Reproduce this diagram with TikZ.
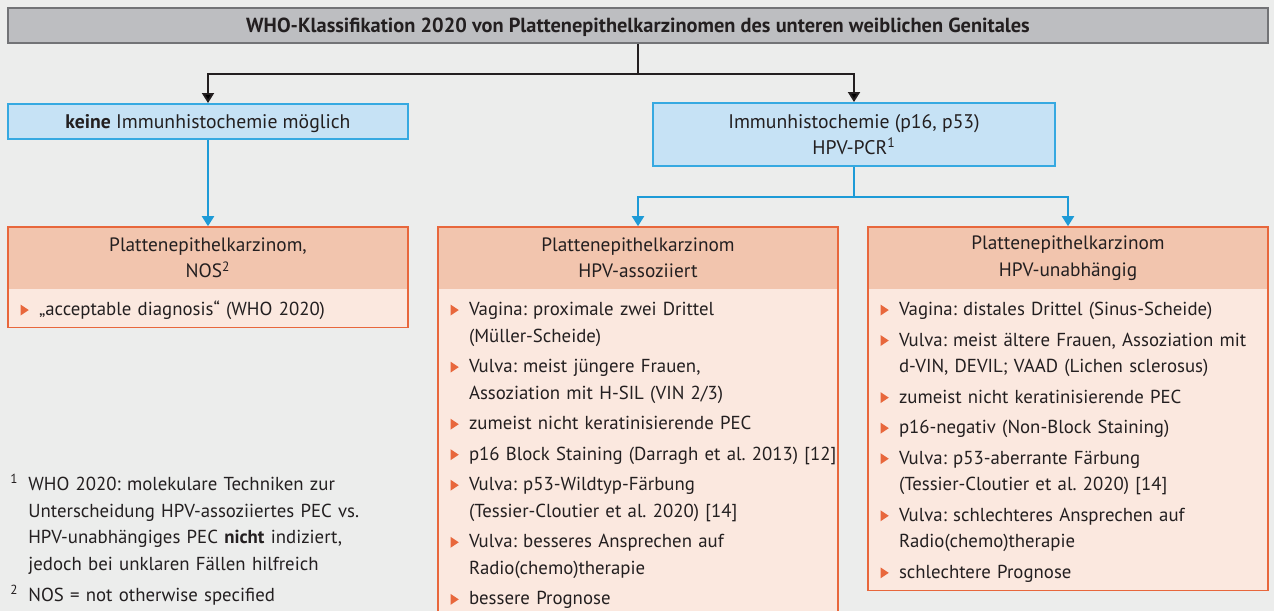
\documentclass[tikz,border=0pt]{standalone}
\usepackage{fontspec}
\setmainfont{PT Sans}
\usetikzlibrary{arrows.meta, positioning, fit, calc}
\definecolor{canvas}{HTML}{ECEDEC}
\definecolor{titleFill}{HTML}{BDBEC1}
\definecolor{titleLine}{HTML}{727376}
\definecolor{ihcFill}{HTML}{C6E2F5}
\definecolor{ihcLine}{HTML}{36A9E1}
\definecolor{pecHead}{HTML}{F2C5AE}
\definecolor{pecBody}{HTML}{FBE8DF}
\definecolor{pecLine}{HTML}{E8673C}
\definecolor{dark}{HTML}{231F20}
\definecolor{flowBlue}{HTML}{1E9BD7}

% orange arrow bullet and list entries
\newcommand{\bul}{\tikz[baseline=0pt]\fill[pecLine] (0,0) -- (0.165cm,0.11cm) -- (0,0.22cm) -- cycle;}
\newcommand{\pitem}[1]{\par\noindent\hangindent=0.62cm\makebox[0.62cm][l]{\hspace{0.25cm}\bul}\rule{0pt}{0.24cm}#1\strut\par\vspace{0.08cm}}
\newcommand{\fnitem}[2]{\par\noindent\hangindent=0.36cm\makebox[0.36cm][l]{\textsuperscript{#1}}\rule{0pt}{0.24cm}#2\strut\par\vspace{0.08cm}}
\frenchspacing

\begin{document}
\begin{tikzpicture}[
  font=\fontsize{10.7}{15.1}\selectfont,
  titlebox/.style={rectangle, draw=titleLine, line width=1.1pt, fill=titleFill, text=dark,
                   font=\fontsize{11.6}{15.1}\selectfont\bfseries, text depth=0pt,
                   minimum width=25.2cm, minimum height=0.7cm, inner sep=0pt},
  ihcbox/.style={rectangle, draw=ihcLine, line width=1.1pt, fill=ihcFill, text=dark,
                 font=\fontsize{11.2}{15.1}\selectfont, text depth=0pt,
                 align=center, minimum width=8cm, minimum height=0.7cm, inner sep=0pt},
  pechead/.style={rectangle, fill=pecHead, text=dark, align=center,
                  font=\fontsize{11}{15.1}\selectfont,
                  minimum width=8cm, minimum height=1.24cm, inner sep=0pt, outer sep=0pt},
  pecbody/.style={rectangle, fill=pecBody, text=dark, align=left, text width=8cm,
                  inner sep=0pt, outer sep=0pt},
  pecframe/.style={rectangle, draw=pecLine, line width=0.9pt, inner sep=0pt},
  splitblack/.style={-{Triangle[width=0.24cm, length=0.2cm]}, draw=dark, line width=1.1pt},
  splitblue/.style={-{Triangle[width=0.24cm, length=0.2cm]}, draw=flowBlue, line width=1.1pt}
]

  \useasboundingbox (0,0) rectangle (25.48,-12.22);
  \fill[canvas] (0,0) rectangle (25.48,-12.22);

  % --- heading ---
  \node[titlebox] (title) at (12.76,-0.51)
    {WHO-Klassifikation 2020 von Plattenepithelkarzinomen des unteren weiblichen Genitales};

  % --- first split: with / without immunohistochemistry ---
  \node[ihcbox] (noihc) at (4.16,-2.43) {\textbf{keine} Immunhistochemie möglich};
  \node[ihcbox, minimum width=8.04cm, minimum height=1.26cm] (ihc) at (17.08,-2.69)
    {Immunhistochemie (p16, p53)\\ HPV-PCR\textsuperscript{1}};

  % --- result boxes: header band + bullet list, framed by fit ---
  \node[pechead, anchor=north] (noshead) at (4.16,-4.54) {Plattenepithelkarzinom,\\ NOS\textsuperscript{2}};
  \node[pechead, right=0.6cm of noshead] (hpvahead) {Plattenepithelkarzinom\\ HPV-assoziiert};
  \node[pechead, right=0.6cm of hpvahead] (hpvihead) {Plattenepithelkarzinom\\ HPV-unabhängig};

  \node[pecbody, below=0pt of noshead] (nosbody) {%
    \pitem{„acceptable diagnosis“ (WHO 2020)}};
  \node[pecbody, below=0pt of hpvahead] (hpvabody) {%
    \pitem{Vagina: proximale zwei Drittel\newline (Müller-Scheide)}
    \pitem{Vulva: meist jüngere Frauen,\newline Assoziation mit H-SIL (VIN 2/3)}
    \pitem{zumeist nicht keratinisierende PEC}
    \pitem{p16 Block Staining (Darragh et al. 2013)~[12]}
    \pitem{Vulva: p53-Wildtyp-Färbung\newline (Tessier-Cloutier et al. 2020) [14]}
    \pitem{Vulva: besseres Ansprechen auf\newline Radio(chemo)therapie}
    \pitem{bessere Prognose}};
  \node[pecbody, below=0pt of hpvihead] (hpvibody) {%
    \pitem{Vagina: distales Drittel (Sinus-Scheide)}
    \pitem{Vulva: meist ältere Frauen, Assoziation~mit\newline d-VIN, DEVIL; VAAD (Lichen sclerosus)}
    \pitem{zumeist nicht keratinisierende PEC}
    \pitem{p16-negativ (Non-Block Staining)}
    \pitem{Vulva: p53-aberrante Färbung\newline (Tessier-Cloutier et al. 2020) [14]}
    \pitem{Vulva: schlechteres Ansprechen auf\newline Radio(chemo)therapie}
    \pitem{schlechtere Prognose}};

  \node[pecframe, fit=(noshead)(nosbody)] (nos) {};
  \node[pecframe, fit=(hpvahead)(hpvabody)] (hpva) {};
  \node[pecframe, fit=(hpvihead)(hpvibody)] (hpvi) {};

  % --- connectors ---
  \coordinate (split) at ($(title.south)+(0,-0.6)$);
  \draw[splitblack] (title.south) -- (split) -| (noihc.north);
  \draw[splitblack] (split) -| (ihc.north);
  \draw[splitblue] (noihc.south) -- (nos.north);
  \coordinate (ihcsplit) at ($(ihc.south)+(0,-0.6)$);
  \draw[splitblue] (ihc.south) -- (ihcsplit) -| (hpva.north);
  \draw[splitblue] (ihcsplit) -| (hpvi.north);

  % --- footnotes ---
  \node[anchor=north west, text width=9cm, align=left, inner sep=0pt, text=dark] (notes) at (0.2,-9.28) {%
    \fnitem{1}{WHO 2020: molekulare Techniken zur\newline Unterscheidung HPV-assoziiertes PEC vs.\newline
      HPV-unabhängiges PEC \textbf{nicht} indiziert,\newline jedoch bei unklaren Fällen hilfreich}
    \fnitem{2}{NOS = not otherwise specified}};

\end{tikzpicture}
\end{document}
